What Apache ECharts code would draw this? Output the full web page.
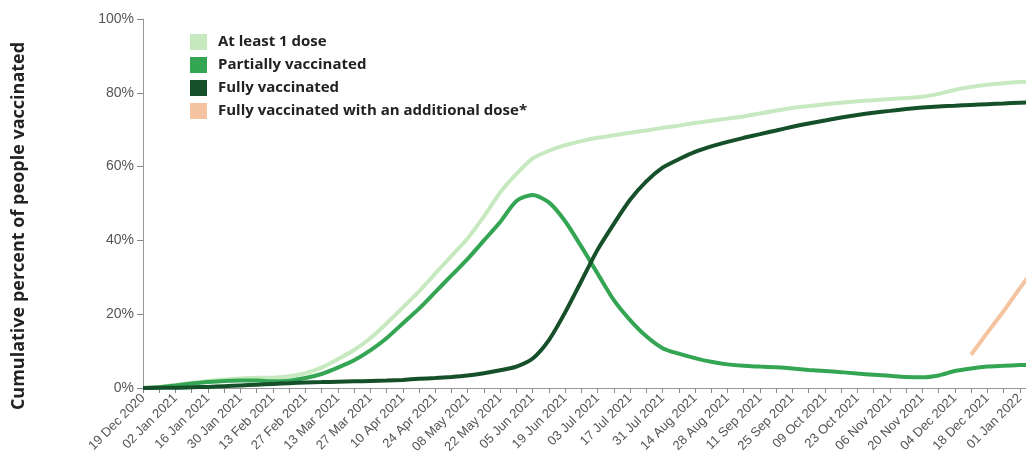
<!DOCTYPE html>
<html>
<head>
<meta charset="utf-8">
<script src="https://cdn.jsdelivr.net/npm/echarts@6/dist/echarts.min.js"></script>
<style>
html,body{margin:0;padding:0;background:#fff;overflow:hidden;width:1026px;height:458px;}
#chart{width:1036px;height:458px;}
</style>
</head>
<body>
<div id="chart"></div>
<script>
const dates = ['19 Dec 2020','26 Dec 2020','02 Jan 2021','09 Jan 2021','16 Jan 2021','23 Jan 2021','30 Jan 2021','06 Feb 2021','13 Feb 2021','20 Feb 2021','27 Feb 2021','06 Mar 2021','13 Mar 2021','20 Mar 2021','27 Mar 2021','03 Apr 2021','10 Apr 2021','17 Apr 2021','24 Apr 2021','01 May 2021','08 May 2021','15 May 2021','22 May 2021','29 May 2021','05 Jun 2021','12 Jun 2021','19 Jun 2021','26 Jun 2021','03 Jul 2021','10 Jul 2021','17 Jul 2021','24 Jul 2021','31 Jul 2021','07 Aug 2021','14 Aug 2021','21 Aug 2021','28 Aug 2021','04 Sep 2021','11 Sep 2021','18 Sep 2021','25 Sep 2021','02 Oct 2021','09 Oct 2021','16 Oct 2021','23 Oct 2021','30 Oct 2021','06 Nov 2021','13 Nov 2021','20 Nov 2021','27 Nov 2021','04 Dec 2021','11 Dec 2021','18 Dec 2021','25 Dec 2021','01 Jan 2022','08 Jan 2022'];

const atLeastOne = [0,0.3,0.8,1.4,1.9,2.3,2.6,2.8,2.8,3.2,4.0,5.5,7.8,10.3,13.5,17.5,21.8,26.2,31.0,35.8,40.6,46.5,53.0,58.0,62.2,64.3,65.8,66.9,67.8,68.5,69.2,69.8,70.5,71.1,71.8,72.4,73.0,73.6,74.4,75.2,75.9,76.4,76.9,77.3,77.7,78.0,78.3,78.6,78.9,79.7,80.8,81.6,82.2,82.6,82.9,83.1];

const partially = [0,0.2,0.7,1.2,1.6,1.9,2.0,2.0,1.8,2.0,2.7,3.8,5.5,7.5,10.2,13.5,17.5,21.5,26.0,30.5,35.0,40.0,45.0,50.7,52.3,50.3,45.2,38.3,31.0,23.8,18.4,14.0,10.8,9.3,8.1,7.1,6.4,6.0,5.8,5.6,5.3,4.9,4.6,4.3,3.9,3.6,3.3,3.0,2.9,3.4,4.6,5.3,5.8,6.0,6.2,6.3];

const fully = [0,0.1,0.1,0.2,0.3,0.5,0.7,0.9,1.1,1.3,1.5,1.6,1.7,1.8,1.9,2.0,2.2,2.5,2.7,3.0,3.4,4.0,4.8,5.8,8.0,13.0,20.5,29.0,37.5,44.5,51.0,56.0,59.7,62.0,64.0,65.5,66.7,67.8,68.8,69.8,70.8,71.7,72.5,73.3,74.0,74.6,75.1,75.6,76.0,76.3,76.5,76.7,76.9,77.1,77.3,77.4];

const additional = [null,null,null,null,null,null,null,null,null,null,null,null,null,null,null,null,null,null,null,null,null,null,null,null,null,null,null,null,null,null,null,null,null,null,null,null,null,null,null,null,null,null,null,null,null,null,null,null,null,null,null,9.0,15.0,20.8,27.0,33.0];

const yTicks = [0,20,40,60,80,100];

const seriesNames = ['At least 1 dose','Partially vaccinated','Fully vaccinated','Fully vaccinated with an additional dose*'];
const seriesColors = ['#c7e9c0','#33a553','#15502a','#f3c49f'];
const seriesData = [atLeastOne, partially, fully, additional];

const chart = echarts.init(document.getElementById('chart'), null, {renderer:'canvas'});
chart.setOption({
  backgroundColor:'#fff',
  animation:false,
  grid:{left:143, right:0, top:19, height:369, containLabel:false},
  legend:{
    data:seriesNames,
    orient:'vertical',
    left:185, top:29,
    icon:'rect',
    itemWidth:17, itemHeight:16,
    itemGap:7,
    textStyle:{fontFamily:'Open Sans', fontWeight:'bold', fontSize:15, color:'#222', padding:[0,0,0,6]}
  },
  graphic:[{
    type:'text',
    x:19, y:226,
    rotation:Math.PI/2,
    style:{text:'Cumulative percent of people vaccinated', fontFamily:'Open Sans', fontWeight:'bold', fontSize:18, fill:'#222', align:'center', verticalAlign:'middle'}
  }],
  xAxis:{
    type:'category',
    data:dates,
    boundaryGap:false,
    axisLine:{lineStyle:{color:'#999', width:1}},
    axisTick:{interval:0, length:5, lineStyle:{color:'#888'}},
    axisLabel:{interval:1, rotate:45, fontFamily:'Liberation Sans', fontSize:13, color:'#555', margin:8}
  },
  yAxis:{
    type:'value',
    min:yTicks[0], max:yTicks[yTicks.length-1], interval:20,
    splitLine:{show:false},
    axisLine:{show:true, lineStyle:{color:'#999', width:1}},
    axisTick:{show:true, length:6, lineStyle:{color:'#888'}},
    axisLabel:{formatter:'{value}%', fontFamily:'Liberation Sans', fontSize:14, color:'#555', margin:9}
  },
  series:seriesData.map((d,i)=>({
    name:seriesNames[i],
    type:'line',
    data:d,
    color:seriesColors[i],
    showSymbol:false,
    symbol:'none',
    smooth:0.25,
    lineStyle:{width:4, color:seriesColors[i]},
    itemStyle:{color:seriesColors[i]},
    z:2+i
  }))
});
</script>
</body>
</html>
